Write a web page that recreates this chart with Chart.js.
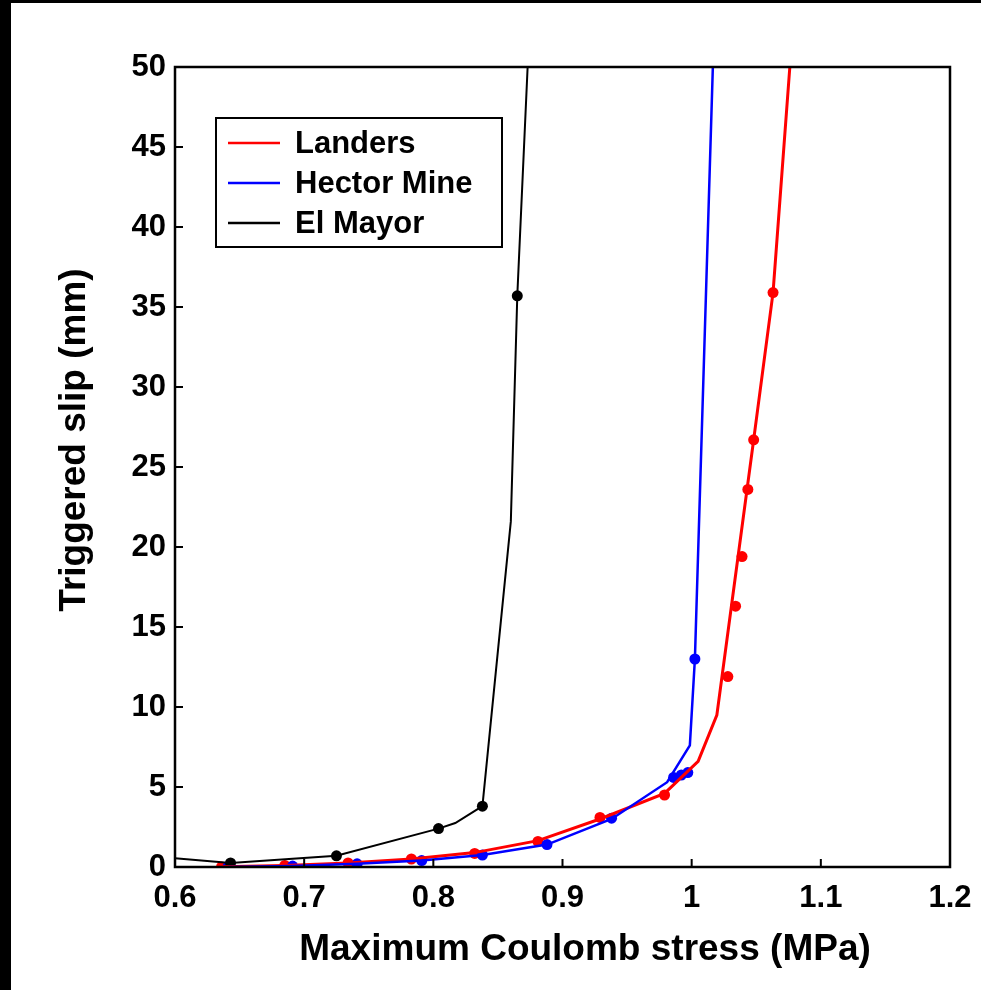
<!DOCTYPE html>
<html>
<head>
<meta charset="utf-8">
<script src="https://cdn.jsdelivr.net/npm/chart.js@4/dist/chart.umd.min.js"></script>
<style>
  body { margin: 0; background: #fff; }
  #wrap { position: relative; width: 981px; height: 990px; }
  #edgeTop { position: absolute; left: 0; top: 0; width: 981px; height: 3px; background: #000; }
  #edgeLeft { position: absolute; left: 0; top: 0; width: 11px; height: 990px; background: #000; }
</style>
</head>
<body>
<div id="wrap">
  <canvas id="chart" width="981" height="990"></canvas>
  <div id="edgeTop"></div>
  <div id="edgeLeft"></div>
</div>
<script>
// measured points (markers)
const landersX = [0.636, 0.685, 0.734, 0.783, 0.832, 0.881, 0.929, 0.979, 1.028, 1.034, 1.039, 1.0435, 1.048, 1.063];
const landersY = [0.0, 0.1, 0.25, 0.5, 0.85, 1.6, 3.1, 4.5, 11.9, 16.3, 19.4, 23.6, 26.7, 35.9];
const hectorX = [0.641, 0.691, 0.741, 0.791, 0.838, 0.888, 0.938, 0.986, 0.992, 0.997, 1.0025];
const hectorY = [0.0, 0.06, 0.2, 0.4, 0.75, 1.4, 3.05, 5.6, 5.75, 5.9, 13.0];
const mayorX = [0.643, 0.725, 0.804, 0.838, 0.865];
const mayorY = [0.25, 0.7, 2.4, 3.8, 35.7];

// model curves
const landersFitX = [0.636, 0.685, 0.734, 0.783, 0.832, 0.881, 0.929, 0.979, 1.005, 1.0195, 1.048, 1.063, 1.076];
const landersFitY = [0.02, 0.1, 0.25, 0.5, 0.9, 1.65, 3.0, 4.6, 6.6, 9.5, 26.7, 35.9, 50];
const hectorFitX = [0.641, 0.691, 0.741, 0.791, 0.838, 0.888, 0.938, 0.981, 0.9986, 1.0025, 1.0164];
const hectorFitY = [0.0, 0.06, 0.2, 0.4, 0.75, 1.4, 3.0, 5.3, 7.6, 13.0, 50];
const mayorFitX = [0.6, 0.643, 0.725, 0.804, 0.817, 0.838, 0.860, 0.865, 0.873];
const mayorFitY = [0.55, 0.25, 0.7, 2.4, 2.75, 3.8, 21.6, 35.7, 50];

const names = ['Landers', 'Hector Mine', 'El Mayor'];
const colors = ['#ff0000', '#0000ff', '#000000'];
const xTicks = [0.6, 0.7, 0.8, 0.9, 1.0, 1.1, 1.2];
const yTicks = [0, 5, 10, 15, 20, 25, 30, 35, 40, 45, 50];

const FONT = '"Liberation Sans", Arial, Helvetica, sans-serif';

function pts(xs, ys) {
  return xs.map((x, i) => ({ x: x, y: ys[i] }));
}

function lineSet(label, xs, ys, color, w) {
  return {
    label: label, data: pts(xs, ys), showLine: true,
    borderColor: color, backgroundColor: color, borderWidth: w,
    pointRadius: 0, tension: 0
  };
}
function markSet(label, xs, ys, color) {
  return {
    label: label, data: pts(xs, ys), showLine: false,
    borderColor: color, backgroundColor: color,
    pointRadius: 5.5, pointBorderWidth: 0
  };
}

// ticks, box, legend and axis titles
const frame = {
  id: 'frame',
  afterDraw(chart) {
    const ctx = chart.ctx;
    const a = chart.chartArea;
    const xs = chart.scales.x, ys = chart.scales.y;
    ctx.save();
    ctx.strokeStyle = '#000';
    ctx.lineWidth = 2;
    ctx.beginPath();
    xTicks.forEach(v => {
      const px = xs.getPixelForValue(v);
      ctx.moveTo(px, a.bottom);
      ctx.lineTo(px, a.bottom - 8);
    });
    yTicks.forEach(v => {
      const py = ys.getPixelForValue(v);
      ctx.moveTo(a.left, py);
      ctx.lineTo(a.left + 8, py);
    });
    ctx.stroke();
    ctx.lineWidth = 2.5;
    ctx.strokeRect(a.left, a.top, a.right - a.left, a.bottom - a.top);

    // legend
    const lx = a.left + 41, ly = a.top + 51, lw = 286, lh = 129;
    ctx.fillStyle = '#fff';
    ctx.fillRect(lx, ly, lw, lh);
    ctx.lineWidth = 2;
    ctx.strokeRect(lx, ly, lw, lh);
    ctx.font = 'bold 31px ' + FONT;
    ctx.textBaseline = 'middle';
    ctx.textAlign = 'left';
    names.forEach((n, i) => {
      const yy = ly + 25 + i * 40;
      ctx.strokeStyle = colors[i];
      ctx.lineWidth = 2.5;
      ctx.beginPath();
      ctx.moveTo(lx + 12, yy);
      ctx.lineTo(lx + 64, yy);
      ctx.stroke();
      ctx.fillStyle = '#000';
      ctx.fillText(n, lx + 79, yy + 1);
    });

    // axis titles
    ctx.fillStyle = '#000';
    ctx.font = 'bold 37px ' + FONT;
    ctx.textAlign = 'center';
    ctx.fillText('Maximum Coulomb stress (MPa)', 585, 950);
    ctx.translate(75, 440);
    ctx.rotate(-Math.PI / 2);
    ctx.fillText('Triggered slip (mm)', 0, 0);
    ctx.restore();
  }
};

new Chart(document.getElementById('chart'), {
  type: 'scatter',
  data: {
    datasets: [
      lineSet(names[2], mayorFitX, mayorFitY, colors[2], 2),
      lineSet(names[1], hectorFitX, hectorFitY, colors[1], 2.5),
      lineSet(names[0], landersFitX, landersFitY, colors[0], 3),
      markSet(names[2] + ' data', mayorX, mayorY, colors[2]),
      markSet(names[1] + ' data', hectorX, hectorY, colors[1]),
      markSet(names[0] + ' data', landersX, landersY, colors[0])
    ]
  },
  options: {
    responsive: false,
    animation: false,
    layout: { padding: { top: 67, right: 31, left: 0, bottom: 0 } },
    plugins: { legend: { display: false }, tooltip: { enabled: false } },
    scales: {
      x: {
        type: 'linear', min: 0.6, max: 1.2,
        afterBuildTicks: s => { s.ticks = xTicks.map(v => ({ value: v })); },
        afterFit: s => { s.height = 123; s.paddingLeft = 0; s.paddingRight = 0; },
        grid: { display: false, drawTicks: false },
        border: { display: false },
        ticks: {
          padding: 13, color: '#000', maxRotation: 0,
          font: { family: FONT, size: 31, weight: 'bold' },
          callback: v => String(Number(v.toFixed(1)))
        }
      },
      y: {
        type: 'linear', min: 0, max: 50,
        afterBuildTicks: s => { s.ticks = yTicks.map(v => ({ value: v })); },
        afterFit: s => { s.width = 175; s.paddingTop = 0; s.paddingBottom = 0; },
        grid: { display: false, drawTicks: false },
        border: { display: false },
        ticks: {
          padding: 9, color: '#000',
          font: { family: FONT, size: 31, weight: 'bold' }
        }
      }
    }
  },
  plugins: [frame]
});
</script>
</body>
</html>
